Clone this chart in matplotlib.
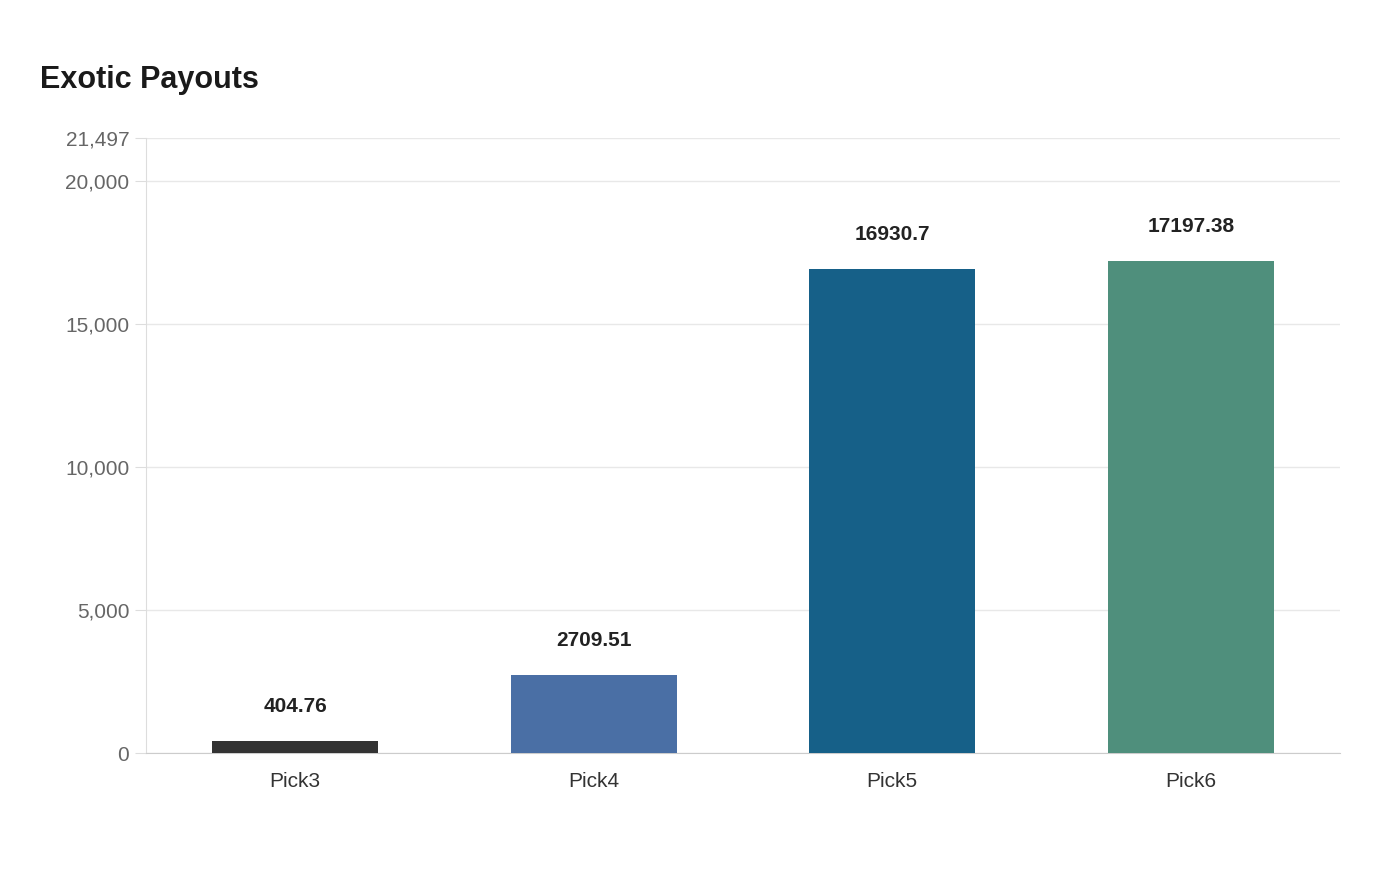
import matplotlib
matplotlib.use("Agg")
import matplotlib.pyplot as plt

categories = ["Pick3", "Pick4", "Pick5", "Pick6"]
values = [404.76, 2709.51, 16930.7, 17197.38]
labels = ["404.76", "2709.51", "16930.7", "17197.38"]
colors = ["#333333", "#4a6fa5", "#166088", "#4f8f7c"]
yticks = [0, 5000, 10000, 15000, 20000, 21497]
ymax = 21497

plt.rcParams['font.family'] = ['Liberation Sans', 'DejaVu Sans']
fig = plt.figure(figsize=(14, 8.8), dpi=100)
ax = fig.add_axes([146/1400, 1-753/880, (1340-146)/1400, (753-138)/880])
x = range(len(categories))
ax.bar(x, values, width=0.556, color=colors, zorder=3)
for i, v in enumerate(values):
    ax.annotate(labels[i], (i, v), xytext=(0, 18), textcoords="offset points",
                ha="center", va="bottom", fontsize=15, fontweight="bold", color="#222222")
ax.set_xlim(-0.5, len(categories)-0.5)
ax.set_ylim(0, ymax)
ax.set_yticks(yticks)
ax.set_yticklabels([f"{t:,}" for t in yticks])
ax.set_xticks(list(x))
ax.set_xticklabels(categories)
ax.tick_params(axis='y', length=8, color="#dddddd", labelsize=15, labelcolor="#666666", pad=4)
ax.tick_params(axis='x', length=0, labelsize=15, labelcolor="#333333", pad=14)
ax.grid(axis='y', color="#e8e8e8", linewidth=1, zorder=0)
for s in ["top", "right"]:
    ax.spines[s].set_visible(False)
ax.spines["left"].set_color("#dddddd")
ax.spines["bottom"].set_color("#cccccc")
fig.text(40/1400, 1-80/880, "Exotic Payouts", fontsize=22, fontweight="bold",
         color="#1a1a1a", va="center", ha="left")
fig.savefig("out.png", dpi=100)
